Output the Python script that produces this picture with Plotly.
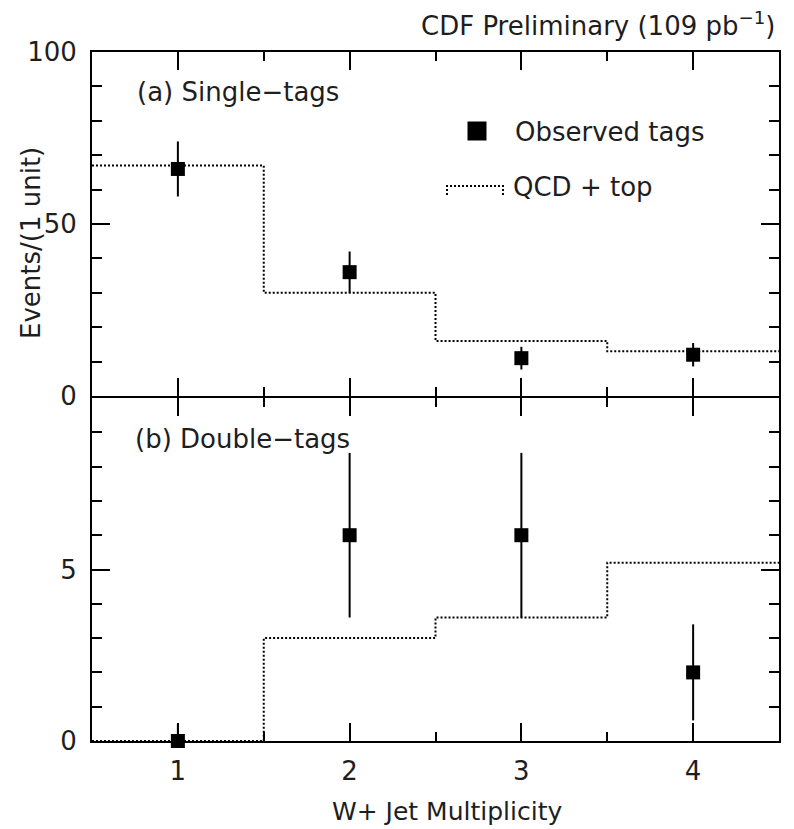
import plotly.graph_objects as go

# ---- data ----
jets = [1, 2, 3, 4]
bin_edges = [0.5, 1.5, 2.5, 3.5, 4.5]

single_obs = [66, 36, 11, 12]
single_err_up = [8, 6, 3.3, 3.4]
single_err_dn = [8, 6, 3.3, 3.4]
single_pred = [67, 30, 16, 13]

double_obs = [0, 6, 6, 2]
double_err_up = [0.5, 2.4, 2.4, 1.4]
double_err_dn = [0, 2.4, 2.4, 1.4]
double_pred = [0, 3.0, 3.6, 5.2]

top_ticks = [0, 50, 100]
bot_ticks = [0, 5]

FONT = "DejaVu Sans"
TXT = "#1e1e1e"
W, H = 794, 829
L, R, T, B = 92, 15, 52, 88
PW, PH = W - L - R, H - T - B
MID = 397  # pixel row of the shared boundary


def px(x):
    return (x - L) / PW


def py(y):
    return (H - B - y) / PH


fig = go.Figure()

DOT = dict(color="black", width=2, dash="2px,2px")

# histograms (step lines)
fig.add_trace(go.Scatter(x=bin_edges, y=single_pred + [single_pred[-1]], mode="lines",
                         line=dict(shape="hv", **DOT),
                         xaxis="x", yaxis="y", showlegend=False))
fig.add_trace(go.Scatter(x=bin_edges, y=double_pred + [double_pred[-1]], mode="lines",
                         line=dict(shape="hv", **DOT),
                         xaxis="x2", yaxis="y2", showlegend=False))

# observed points
fig.add_trace(go.Scatter(x=jets, y=single_obs, mode="markers",
                         marker=dict(symbol="square", size=14, color="black"),
                         error_y=dict(type="data", symmetric=False, array=single_err_up,
                                      arrayminus=single_err_dn, thickness=2, width=0, color="black"),
                         xaxis="x", yaxis="y", showlegend=False, cliponaxis=False))
fig.add_trace(go.Scatter(x=jets, y=double_obs, mode="markers",
                         marker=dict(symbol="square", size=14, color="black"),
                         error_y=dict(type="data", symmetric=False, array=double_err_up,
                                      arrayminus=double_err_dn, thickness=2, width=0, color="black"),
                         xaxis="x2", yaxis="y2", showlegend=False, cliponaxis=False))

axis_common = dict(showline=True, linecolor="black", linewidth=2, ticks="inside",
                   tickcolor="black", tickwidth=2, mirror="allticks", showgrid=False,
                   zeroline=False, tickfont=dict(family=FONT, size=26, color=TXT))

# domains: the two axis lines at the boundary overlap exactly
top_lo = py(MID - 1)
bot_hi = py(MID + 1)

fig.update_layout(
    width=W, height=H,
    margin=dict(l=L, r=R, t=T, b=B),
    paper_bgcolor="white", plot_bgcolor="white",
    xaxis=dict(domain=[0, 1], anchor="y", range=[0.5, 4.5], tickvals=jets, ticklen=18,
               showticklabels=False,
               minor=dict(tickvals=[1.5, 2.5, 3.5], ticklen=9, ticks="inside",
                          tickcolor="black", tickwidth=2),
               **axis_common),
    xaxis2=dict(domain=[0, 1], anchor="y2", range=[0.5, 4.5], tickvals=jets, ticklen=18,
                ticklabelstandoff=6,
                minor=dict(tickvals=[1.5, 2.5, 3.5], ticklen=9, ticks="inside",
                           tickcolor="black", tickwidth=2),
                **axis_common),
    yaxis=dict(domain=[top_lo, 1], anchor="x", range=[0, 100], tickvals=top_ticks, ticklen=18,
               ticklabelstandoff=8,
               minor=dict(dtick=10, tick0=0, ticklen=10, ticks="inside",
                          tickcolor="black", tickwidth=2),
               **axis_common),
    yaxis2=dict(domain=[0, bot_hi], anchor="x2", range=[0, 10], tickvals=bot_ticks,
                ticklen=18, ticklabelstandoff=8,
                minor=dict(dtick=1, tick0=0, ticklen=10, ticks="inside",
                           tickcolor="black", tickwidth=2),
                **axis_common),
)


def ann(text, x, y, xanchor="left", yanchor="middle", angle=0, size=26):
    fig.add_annotation(text=text, x=px(x), y=py(y), xref="paper", yref="paper",
                       xanchor=xanchor, yanchor=yanchor, showarrow=False, textangle=angle,
                       font=dict(family=FONT, size=size, color=TXT))


ann("(a) Single\u2212tags", 135, 92)
ann("(b) Double\u2212tags", 133, 439)
ann("Observed tags", 513, 132)
ann("QCD + top", 511, 187)
ann("CDF Preliminary (109 pb<sup>\u22121</sup>)", 778, 24, xanchor="right")
ann("Events/(1 unit)", 31, 243, xanchor="center", angle=-90)
ann("W+ Jet Multiplicity", 447, 811, xanchor="center", size=25)

# legend glyphs
fig.add_shape(type="rect", xref="paper", yref="paper",
              x0=px(467.5), x1=px(486.5), y0=py(140.5), y1=py(121.5),
              fillcolor="black", line=dict(width=0))
fig.add_shape(type="path", xref="paper", yref="paper",
              path=f"M {px(447)},{py(195)} L {px(447)},{py(186)} L {px(503)},{py(186)} L {px(503)},{py(195)}",
              line=DOT)

fig.write_html("out.html")
